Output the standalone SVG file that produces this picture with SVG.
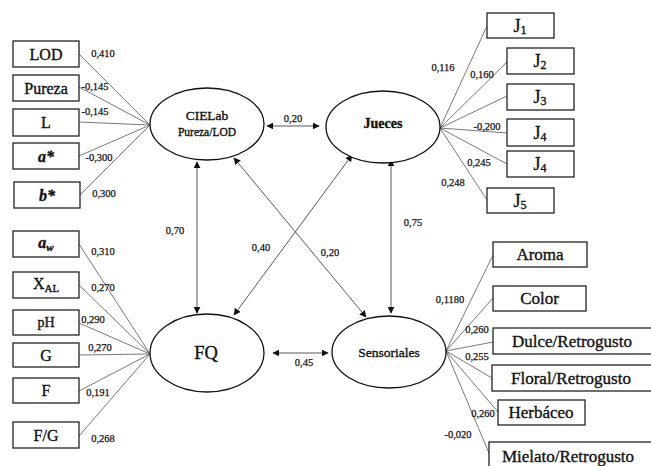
<svg xmlns="http://www.w3.org/2000/svg" width="651" height="466" viewBox="0 0 651 466">
<style>
.box{fill:#fff;stroke:#222;stroke-width:1.3}
.ell{fill:#fff;stroke:#111;stroke-width:1.3}
.ln{stroke:#555;stroke-width:0.8;fill:none}
.ar{stroke:#444;stroke-width:0.9;fill:none;marker-start:url(#ah);marker-end:url(#ah)}
.t{font-family:"Liberation Serif",serif;fill:#111;text-anchor:middle;stroke:#111;stroke-width:0.35}
.bl{font-size:16px}
.rl{font-size:17px}
.n{font-family:"Liberation Serif",serif;font-size:10.5px;fill:#111;text-anchor:middle;stroke:#111;stroke-width:0.25}
</style>
<defs>
<marker id="ah" viewBox="0 0 10 10" refX="9" refY="5" markerWidth="7" markerHeight="7" markerUnits="userSpaceOnUse" orient="auto-start-reverse">
<path d="M0,0 L10,5 L0,10 z" fill="#111"/>
</marker>
</defs>
<rect width="651" height="466" fill="#fff"/>
<g id="connectors">
<line class="ln" x1="79" y1="54" x2="150" y2="125"/>
<line class="ln" x1="79" y1="87" x2="150" y2="125"/>
<line class="ln" x1="79" y1="122" x2="150" y2="125"/>
<line class="ln" x1="79" y1="156" x2="150" y2="125"/>
<line class="ln" x1="80" y1="195" x2="150" y2="125"/>
<line class="ln" x1="79" y1="244" x2="150" y2="354"/>
<line class="ln" x1="79" y1="285" x2="150" y2="354"/>
<line class="ln" x1="79" y1="323" x2="150" y2="354"/>
<line class="ln" x1="79" y1="355" x2="150" y2="354"/>
<line class="ln" x1="79" y1="391" x2="150" y2="354"/>
<line class="ln" x1="79" y1="436" x2="150" y2="354"/>
<line class="ln" x1="440" y1="128" x2="487" y2="26"/>
<line class="ln" x1="440" y1="128" x2="507" y2="62"/>
<line class="ln" x1="440" y1="128" x2="507" y2="96"/>
<line class="ln" x1="440" y1="128" x2="507" y2="133"/>
<line class="ln" x1="440" y1="128" x2="507" y2="164"/>
<line class="ln" x1="440" y1="128" x2="487" y2="200"/>
<line class="ln" x1="446" y1="351" x2="493" y2="255"/>
<line class="ln" x1="446" y1="351" x2="493" y2="298"/>
<line class="ln" x1="446" y1="351" x2="493" y2="342"/>
<line class="ln" x1="446" y1="351" x2="492" y2="378"/>
<line class="ln" x1="446" y1="351" x2="498" y2="412"/>
<line class="ln" x1="446" y1="351" x2="489" y2="453"/>
<line class="ar" x1="267" y1="126" x2="319" y2="126"/>
<line class="ar" x1="197" y1="162" x2="197" y2="313"/>
<line class="ar" x1="391" y1="160" x2="391" y2="313"/>
<line class="ar" x1="234" y1="158" x2="366" y2="317"/>
<line class="ar" x1="352" y1="155" x2="234" y2="315"/>
<line class="ar" x1="273" y1="353" x2="328" y2="353"/>
</g>
<g id="CIELab"><ellipse class="ell" cx="207" cy="124" rx="57" ry="36"/>
<text class="t" x="207" y="120" font-size="13.5">CIELab</text>
<text class="t" x="207" y="136" font-size="11.5">Pureza/LOD</text></g>
<g id="Jueces"><ellipse class="ell" cx="383" cy="127" rx="57" ry="36"/>
<text class="t" x="383" y="128" font-size="14" font-weight="bold">Jueces</text></g>
<g id="FQ"><ellipse class="ell" cx="207" cy="353" rx="57" ry="39"/>
<text class="t" x="206" y="359" font-size="18.5">FQ</text></g>
<g id="Sensoriales"><ellipse class="ell" cx="389" cy="352" rx="57" ry="36"/>
<text class="t" x="389" y="357" font-size="13.5">Sensoriales</text></g>
<g id="LOD"><rect class="box" x="13" y="41" width="66" height="26"/><text class="t bl" x="46" y="59.5">LOD</text></g>
<g id="Pureza"><rect class="box" x="13" y="75" width="66" height="26"/><text class="t bl" x="46" y="93.5">Pureza</text></g>
<g id="L"><rect class="box" x="13" y="109" width="66" height="27"/><text class="t bl" x="46" y="128">L</text></g>
<g id="a_star"><rect class="box" x="13" y="143" width="66" height="26"/><text class="t bl" x="46" y="161.5" font-weight="bold" font-style="italic">a*</text></g>
<g id="b_star"><rect class="box" x="14" y="182" width="66" height="26"/><text class="t bl" x="47" y="200.5" font-weight="bold" font-style="italic">b*</text></g>
<g id="aw"><rect class="box" x="13" y="231" width="66" height="26"/><text class="t bl" x="46" y="248" font-weight="bold" font-style="italic">a<tspan font-size="11" dy="3">w</tspan></text></g>
<g id="XAL"><rect class="box" x="13" y="272" width="66" height="26"/><text class="t bl" x="46" y="289">X<tspan font-size="11" dy="3">AL</tspan></text></g>
<g id="pH"><rect class="box" x="13" y="310" width="66" height="25"/><text class="t" x="46" y="327" font-size="14">pH</text></g>
<g id="G"><rect class="box" x="13" y="343" width="66" height="24"/><text class="t bl" x="46" y="361">G</text></g>
<g id="F"><rect class="box" x="13" y="378" width="66" height="25"/><text class="t bl" x="46" y="396">F</text></g>
<g id="FG"><rect class="box" x="13" y="422" width="66" height="26"/><text class="t bl" x="46" y="441">F/G</text></g>
<g id="J1"><rect class="box" x="487" y="13" width="67" height="25"/><text class="t" x="520" y="32" font-size="18">J<tspan font-size="12" dy="2">1</tspan></text></g>
<g id="J2"><rect class="box" x="507" y="48" width="67" height="26"/><text class="t" x="540" y="67" font-size="18">J<tspan font-size="12" dy="2">2</tspan></text></g>
<g id="J3"><rect class="box" x="507" y="84" width="67" height="26"/><text class="t" x="540" y="103" font-size="18">J<tspan font-size="12" dy="2">3</tspan></text></g>
<g id="J4a"><rect class="box" x="507" y="119" width="67" height="27"/><text class="t" x="540" y="139" font-size="18">J<tspan font-size="12" dy="2">4</tspan></text></g>
<g id="J4b"><rect class="box" x="507" y="151" width="67" height="26"/><text class="t" x="540" y="170" font-size="18">J<tspan font-size="12" dy="2">4</tspan></text></g>
<g id="J5"><rect class="box" x="487" y="188" width="67" height="25"/><text class="t" x="520" y="207" font-size="18">J<tspan font-size="12" dy="2">5</tspan></text></g>
<g id="Aroma"><rect class="box" x="493" y="242" width="94" height="25"/><text class="t rl" x="540" y="260">Aroma</text></g>
<g id="Color"><rect class="box" x="493" y="286" width="93" height="25"/><text class="t rl" x="539.5" y="304">Color</text></g>
<g id="Dulce"><rect class="box" x="493" y="328" width="170" height="26"/><text class="t rl" x="572" y="347">Dulce/Retrogusto</text></g>
<g id="Floral"><rect class="box" x="492" y="365" width="170" height="26"/><text class="t rl" x="571" y="384">Floral/Retrogusto</text></g>
<g id="Herbaceo"><rect class="box" x="498" y="400" width="87" height="25"/><text class="t rl" x="541" y="418">Herbáceo</text></g>
<g id="Mielato"><rect class="box" x="489" y="442" width="175" height="40"/><text class="t rl" x="568" y="462">Mielato/Retrogusto</text></g>
<g id="labels">
<text class="n" x="103" y="57">0,410</text>
<text class="n" x="95" y="90">-0,145</text>
<text class="n" x="95" y="115">-0,145</text>
<text class="n" x="99" y="161">-0,300</text>
<text class="n" x="104" y="197">0,300</text>
<text class="n" x="103" y="255">0,310</text>
<text class="n" x="103" y="291">0,270</text>
<text class="n" x="93" y="323">0,290</text>
<text class="n" x="100" y="351">0,270</text>
<text class="n" x="98" y="396">0,191</text>
<text class="n" x="103" y="442">0,268</text>
<text class="n" x="443" y="71">0,116</text>
<text class="n" x="482" y="78">0,160</text>
<text class="n" x="487" y="130">-0,200</text>
<text class="n" x="479" y="166">0,245</text>
<text class="n" x="453" y="186">0,248</text>
<text class="n" x="450" y="303">0,1180</text>
<text class="n" x="477" y="333">0,260</text>
<text class="n" x="477" y="360">0,255</text>
<text class="n" x="483" y="417">0,260</text>
<text class="n" x="458" y="438">-0,020</text>
<text class="n" x="293" y="122">0,20</text>
<text class="n" x="175" y="234">0,70</text>
<text class="n" x="261" y="251">0,40</text>
<text class="n" x="330" y="256">0,20</text>
<text class="n" x="413" y="226">0,75</text>
<text class="n" x="304" y="366">0,45</text>
</g>
</svg>
